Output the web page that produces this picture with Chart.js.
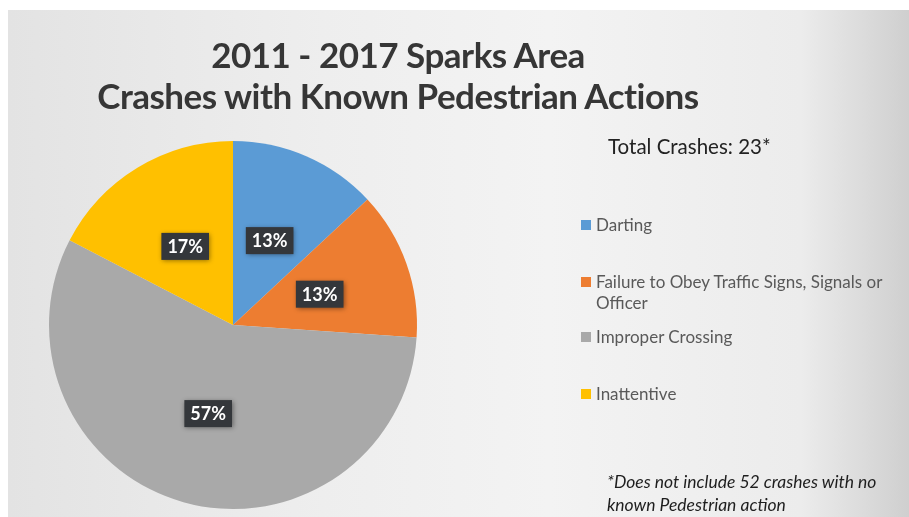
<!DOCTYPE html>
<html>
<head>
<meta charset="utf-8">
<title>Sparks Area Pedestrian Crashes</title>
<script src="https://cdn.jsdelivr.net/npm/chart.js@4.4.1/dist/chart.umd.min.js"></script>
<style>
  body { margin: 0; background: #fff; }
  #slide {
    position: absolute; left: 8px; top: 10px; width: 901px; height: 507px;
    background: linear-gradient(90deg, #e3e3e3 0%, #eeeeee 35%, #f3f3f3 60%, #ececec 88%, #cfcfcf 100%);
    overflow: hidden;
  }
  #mycanvas { position: absolute; left: 0; top: 0; }
  .txt { position: absolute; font-family: Lato, "Open Sans", sans-serif; white-space: nowrap; }
  #title { left: 0; width: 796px; top: 34px; text-align: center; font-weight: bold;
           font-size: 35px; line-height: 41px; color: #363636; letter-spacing: -0.5px; }
  #total { left: 608px; top: 134px; font-size: 20.5px; color: #222; }
  .leg { position: absolute; left: 581px; font-family: Lato, "Open Sans", sans-serif;
         font-size: 17px; line-height: 21px; color: #595959; }
  .leg i { position: absolute; left: 0; top: 6px; width: 10px; height: 10px; }
  .leg span { display: block; margin-left: 15px; }
  #note { left: 607px; top: 470px; font-size: 17.5px; line-height: 23px; font-style: italic; color: #1e1e1e; }
</style>
</head>
<body>
<div id="slide"></div>
<canvas id="mycanvas" width="909" height="517"></canvas>
<div class="txt" id="title">2011 - 2017 Sparks Area<br>Crashes with Known Pedestrian Actions</div>
<div class="txt" id="total">Total Crashes: 23*</div>
<div id="legend"></div>
<div class="txt" id="note">*Does not include 52 crashes with no<br>known Pedestrian action</div>
<script>
// crash counts per pedestrian action (23 total)
var actions = ['Darting', 'Failure to Obey Traffic Signs, Signals or Officer', 'Improper Crossing', 'Inattentive'];
var crashes = [3, 3, 13, 4];
var pctLabels = ['13%', '13%', '57%', '17%'];
var colors = ['#5b9bd5', '#ed7d31', '#a9a9a9', '#ffc000'];

// legend rows (hand placed like the slide)
var legTops = [214, 271, 326, 383];
var legText = ['Darting', 'Failure to Obey Traffic Signs, Signals or<br>Officer', 'Improper Crossing', 'Inattentive'];
var legend = document.getElementById('legend');
for (var i in actions) {
  var d = document.createElement('div');
  d.className = 'leg';
  d.style.top = legTops[i] + 'px';
  d.innerHTML = '<i style="background:' + colors[i] + '"></i><span>' + legText[i] + '</span>';
  legend.appendChild(d);
}

var boxLabels = {
  id: 'boxLabels',
  afterDatasetsDraw: function(chart) {
    var ctx = chart.ctx;
    var meta = chart.getDatasetMeta(0);
    ctx.save();
    ctx.font = 'bold 18px Lato, "Open Sans", sans-serif';
    ctx.textAlign = 'center';
    ctx.textBaseline = 'middle';
    meta.data.forEach(function(arc, i) {
      var p = arc.getCenterPoint();
      var t = pctLabels[i];
      var w = ctx.measureText(t).width + 12;
      var h = 27;
      ctx.shadowColor = 'rgba(0,0,0,0.45)';
      ctx.shadowBlur = 5;
      ctx.shadowOffsetX = 1;
      ctx.shadowOffsetY = 1;
      ctx.fillStyle = '#34373b';
      ctx.fillRect(p.x - w / 2, p.y - h / 2, w, h);
      ctx.shadowColor = 'transparent';
      ctx.fillStyle = '#ffffff';
      ctx.fillText(t, p.x, p.y + 1);
    });
    ctx.restore();
  }
};

var ctx = document.getElementById('mycanvas');
var pieChart = new Chart(ctx, {
  type: 'pie',
  data: {
    labels: actions,
    datasets: [{
      data: crashes,
      backgroundColor: colors,
      borderWidth: 0
    }]
  },
  options: {
    responsive: false,
    animation: false,
    layout: { padding: { left: 49, right: 492, top: 141, bottom: 8 } },
    plugins: {
      legend: { display: false },
      tooltip: { enabled: false }
    }
  },
  plugins: [boxLabels]
});
</script>
</body>
</html>
